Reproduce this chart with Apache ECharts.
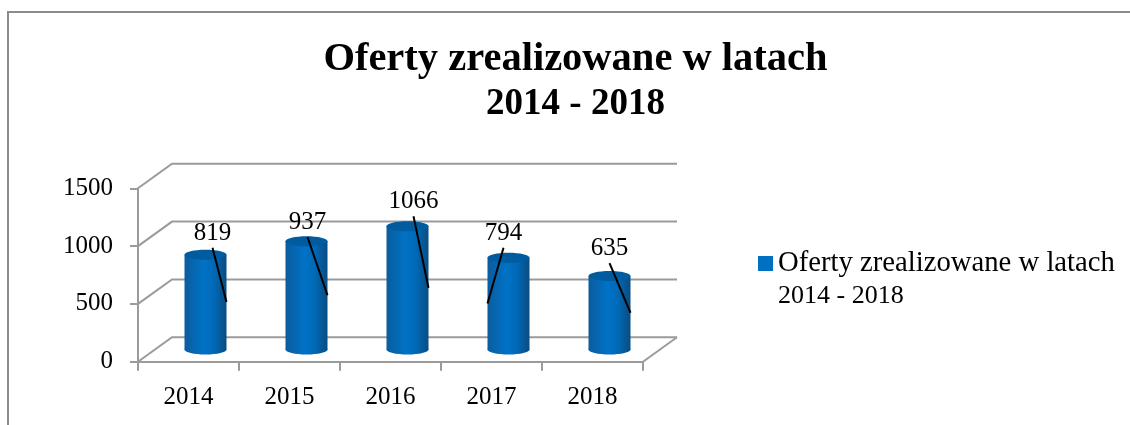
<!DOCTYPE html>
<html>
<head>
<meta charset="utf-8">
<title>Oferty zrealizowane w latach</title>
<script src="https://cdn.jsdelivr.net/npm/echarts@6/dist/echarts.min.js"></script>
<style>
  html, body { margin: 0; padding: 0; background: #fff; }
  #chart { width: 1130px; height: 425px; }
</style>
</head>
<body>
<div id="chart"></div>
<script>
const years = ['2014', '2015', '2016', '2017', '2018'];
const offers = [819, 937, 1066, 794, 635];
const valueTicks = [0, 500, 1000, 1500];
const nameLines = ['Oferty zrealizowane w latach', '2014 - 2018'];
const seriesName = nameLines.join('\n');

// where each label was dragged to, relative to the top of its cylinder
const labelNudge = [[7, -7], [1, -4], [6, -10], [-5, -10], [0, -13]];
const leaderSide = [1, 1, 1, -1, 1];

const font = '"Liberation Serif", serif';
const gray = '#9b9b9b';
const depthX = 34;
const depthY = 24.5;
const barHalf = 21;
const capRy = 5;

const chart = echarts.init(document.getElementById('chart'));

function renderWall(params, api) {
  const sys = params.coordSys;
  const v = api.value(1);
  const y = api.coord([0, v])[1];
  const style = { stroke: gray, lineWidth: 2, fill: null };
  const left = sys.x;
  const right = sys.x + sys.width;
  const children = [{
    type: 'polyline',
    shape: { points: [[left, y], [left + depthX, y - depthY], [right + depthX, y - depthY]] },
    style: style
  }];
  if (v === 0) {
    children.push({
      type: 'line',
      shape: { x1: right, y1: y, x2: right + depthX, y2: y - depthY },
      style: style
    });
  }
  return { type: 'group', children: children };
}

function renderCylinder(params, api) {
  const i = params.dataIndex;
  const v = api.value(1);
  const base = api.coord([i, 0]);
  const top = api.coord([i, v]);
  const mid = api.coord([i, v / 2]);
  const cx = base[0] + depthX / 2;
  const shiftY = -depthY / 2;
  const yBase = base[1] + shiftY;
  const yTop = top[1] + shiftY;
  const yMid = mid[1] + shiftY;
  const body = new echarts.graphic.LinearGradient(0, 0, 1, 0, [
    { offset: 0, color: '#0a5c9e' },
    { offset: 0.45, color: '#0072c6' },
    { offset: 0.7, color: '#0069b6' },
    { offset: 1, color: '#0a4c80' }
  ]);
  const sx = cx + labelNudge[i][0];
  const sy = yTop + labelNudge[i][1];
  return {
    type: 'group',
    children: [
      { type: 'ellipse', shape: { cx: cx, cy: yBase, rx: barHalf, ry: capRy }, style: { fill: body } },
      { type: 'rect', shape: { x: cx - barHalf, y: yTop, width: barHalf * 2, height: yBase - yTop }, style: { fill: body } },
      { type: 'ellipse', shape: { cx: cx, cy: yTop, rx: barHalf, ry: capRy }, style: { fill: '#005c9f' } },
      {
        type: 'line',
        shape: { x1: sx, y1: sy, x2: cx + leaderSide[i] * barHalf, y2: yMid },
        style: { stroke: '#000', lineWidth: 2 }
      },
      {
        type: 'text',
        x: sx,
        y: sy - 2,
        style: {
          text: String(v),
          fill: '#000',
          font: '25px ' + font,
          align: 'center',
          verticalAlign: 'bottom'
        }
      }
    ]
  };
}

const option = {
  backgroundColor: '#fff',
  animation: false,
  title: {
    text: '{a|' + nameLines[0] + '}\n{b|' + nameLines[1] + '}',
    left: 570.5,
    top: 32,
    textAlign: 'center',
    textStyle: {
      rich: {
        a: { fontFamily: font, fontSize: 40.5, fontWeight: 'bold', color: '#000', lineHeight: 45 },
        b: { fontFamily: font, fontSize: 37, fontWeight: 'bold', color: '#000', lineHeight: 45 }
      }
    }
  },
  legend: {
    data: [seriesName],
    left: 758,
    top: 216,
    padding: 0,
    icon: 'rect',
    itemWidth: 15,
    itemHeight: 15,
    itemGap: 6,
    selectedMode: false,
    // blank first line keeps the swatch level with the first text line
    formatter: function () {
      return '{a| }\n{a|' + nameLines[0] + '}\n{b|' + nameLines[1] + '}';
    },
    textStyle: {
      rich: {
        a: { fontFamily: font, fontSize: 28.7, color: '#000', lineHeight: 33 },
        b: { fontFamily: font, fontSize: 26, color: '#000', lineHeight: 33 }
      }
    }
  },
  grid: { left: 138, right: 487, top: 188.3, height: 173.4 },
  xAxis: {
    type: 'category',
    data: years,
    axisLine: { show: true, lineStyle: { color: gray, width: 2 } },
    axisTick: { show: true, length: 9, lineStyle: { color: gray, width: 2 } },
    axisLabel: { margin: 23, fontFamily: font, fontSize: 25, color: '#000' }
  },
  yAxis: {
    type: 'value',
    min: 0,
    max: 1500,
    interval: 500,
    splitLine: { show: false },
    axisLine: { show: true, lineStyle: { color: gray, width: 2 } },
    axisTick: { show: true, length: 8, lineStyle: { color: gray, width: 2 } },
    axisLabel: {
      margin: 25,
      fontFamily: font,
      fontSize: 25,
      color: '#000',
      formatter: function (v) { return String(v); }
    }
  },
  series: [
    {
      name: 'walls',
      type: 'custom',
      renderItem: renderWall,
      data: valueTicks.map(function (v) { return [0, v]; }),
      clip: false,
      silent: true,
      z: 1
    },
    {
      name: seriesName,
      type: 'custom',
      renderItem: renderCylinder,
      data: offers.map(function (v, i) { return [i, v]; }),
      itemStyle: { color: '#0070c0' },
      clip: false,
      z: 3
    }
  ],
  graphic: [{
    type: 'polyline',
    shape: { points: [[8, 425], [8, 12], [1130, 12]] },
    style: { stroke: '#8c8c8c', lineWidth: 2, fill: null }
  }]
};

chart.setOption(option);
</script>
</body>
</html>
